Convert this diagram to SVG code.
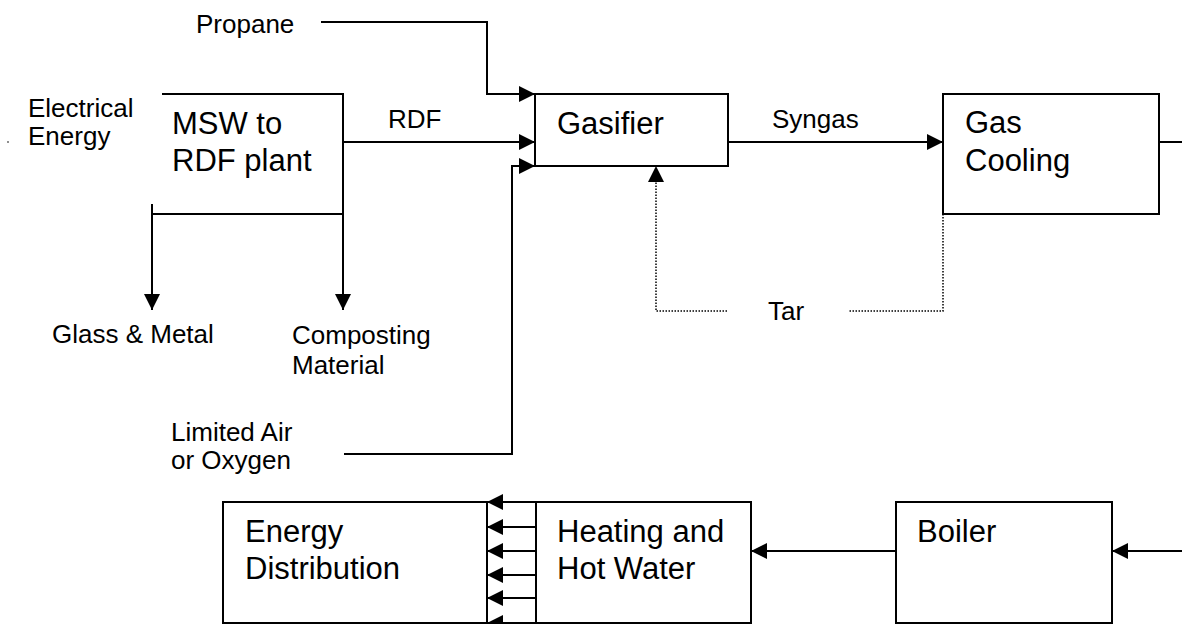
<svg xmlns="http://www.w3.org/2000/svg" width="1182" height="624" viewBox="0 0 1182 624">
<style>
.box{fill:#fff;stroke:#000;stroke-width:2}
.ln{fill:none;stroke:#000;stroke-width:2}
.dot{fill:none;stroke:#000;stroke-width:1.5;stroke-dasharray:1.5 1.5}
.bt{font-family:"Liberation Sans",Arial,sans-serif;font-size:31px;fill:#000}
.lt{font-family:"Liberation Sans",Arial,sans-serif;font-size:26px;fill:#000}
</style>
<defs>
<marker id="ah" markerUnits="userSpaceOnUse" viewBox="0 0 16 16" markerWidth="16" markerHeight="16" refX="16" refY="8" orient="auto">
<path d="M0,0 L16,8 L0,16 z" fill="#000"/>
</marker>
</defs>
<rect width="1182" height="624" fill="#fff"/>
<circle cx="8" cy="142" r="0.8" fill="#000"/>
<g id="msw">
<path class="ln" d="M162,94 H343 V214 H152"/>
<text class="bt" x="172" y="134">MSW to</text>
<text class="bt" x="172" y="171">RDF plant</text>
</g>
<g id="gasifier">
<rect class="box" x="535" y="94" width="193" height="72"/>
<text class="bt" x="557" y="134">Gasifier</text>
</g>
<g id="gascooling">
<rect class="box" x="943" y="94" width="216" height="120"/>
<text class="bt" x="965" y="133">Gas</text>
<text class="bt" x="965" y="171">Cooling</text>
</g>
<g id="energydist">
<rect class="box" x="223" y="502" width="264" height="121"/>
<text class="bt" x="245" y="542">Energy</text>
<text class="bt" x="245" y="579">Distribution</text>
</g>
<g id="heating">
<rect class="box" x="536" y="502" width="215" height="121"/>
<text class="bt" x="557" y="542">Heating and</text>
<text class="bt" x="557" y="579">Hot Water</text>
</g>
<g id="boiler">
<rect class="box" x="896" y="502" width="216" height="121"/>
<text class="bt" x="917" y="542">Boiler</text>
</g>
<g id="labels">
<text class="lt" x="196" y="33">Propane</text>
<text class="lt" x="28" y="117">Electrical</text>
<text class="lt" x="28" y="145">Energy</text>
<text class="lt" x="388" y="128">RDF</text>
<text class="lt" x="772" y="128">Syngas</text>
<text class="lt" x="768" y="320">Tar</text>
<text class="lt" x="52" y="343">Glass &amp; Metal</text>
<text class="lt" x="292" y="344">Composting</text>
<text class="lt" x="292" y="374">Material</text>
<text class="lt" x="171" y="441">Limited Air</text>
<text class="lt" x="171" y="469">or Oxygen</text>
</g>
<g id="connectors">
<path class="ln" d="M321,22 H487 V94 H535" marker-end="url(#ah)"/>
<path class="ln" d="M343,142 H535" marker-end="url(#ah)"/>
<path class="ln" d="M344,454 H512 V166 H535" marker-end="url(#ah)"/>
<path class="ln" d="M728,142 H943" marker-end="url(#ah)"/>
<path class="ln" d="M1159,142 H1182"/>
<path class="ln" d="M152,204 V310" marker-end="url(#ah)"/>
<path class="ln" d="M343,214 V310" marker-end="url(#ah)"/>
<path class="dot" d="M943,214 V311 H848"/>
<path class="dot" d="M727,311 H656 V172"/>
<path d="M648,182 L656,166 L664,182 z" fill="#000"/>
<path class="ln" d="M1182,551 H1112" marker-end="url(#ah)"/>
<path class="ln" d="M896,551 H751" marker-end="url(#ah)"/>
<path class="ln" d="M536,502 H487" marker-end="url(#ah)"/>
<path class="ln" d="M536,527 H487" marker-end="url(#ah)"/>
<path class="ln" d="M536,551 H487" marker-end="url(#ah)"/>
<path class="ln" d="M536,575 H487" marker-end="url(#ah)"/>
<path class="ln" d="M536,598 H487" marker-end="url(#ah)"/>
<path class="ln" d="M536,623 H487" marker-end="url(#ah)"/>
</g>
</svg>
